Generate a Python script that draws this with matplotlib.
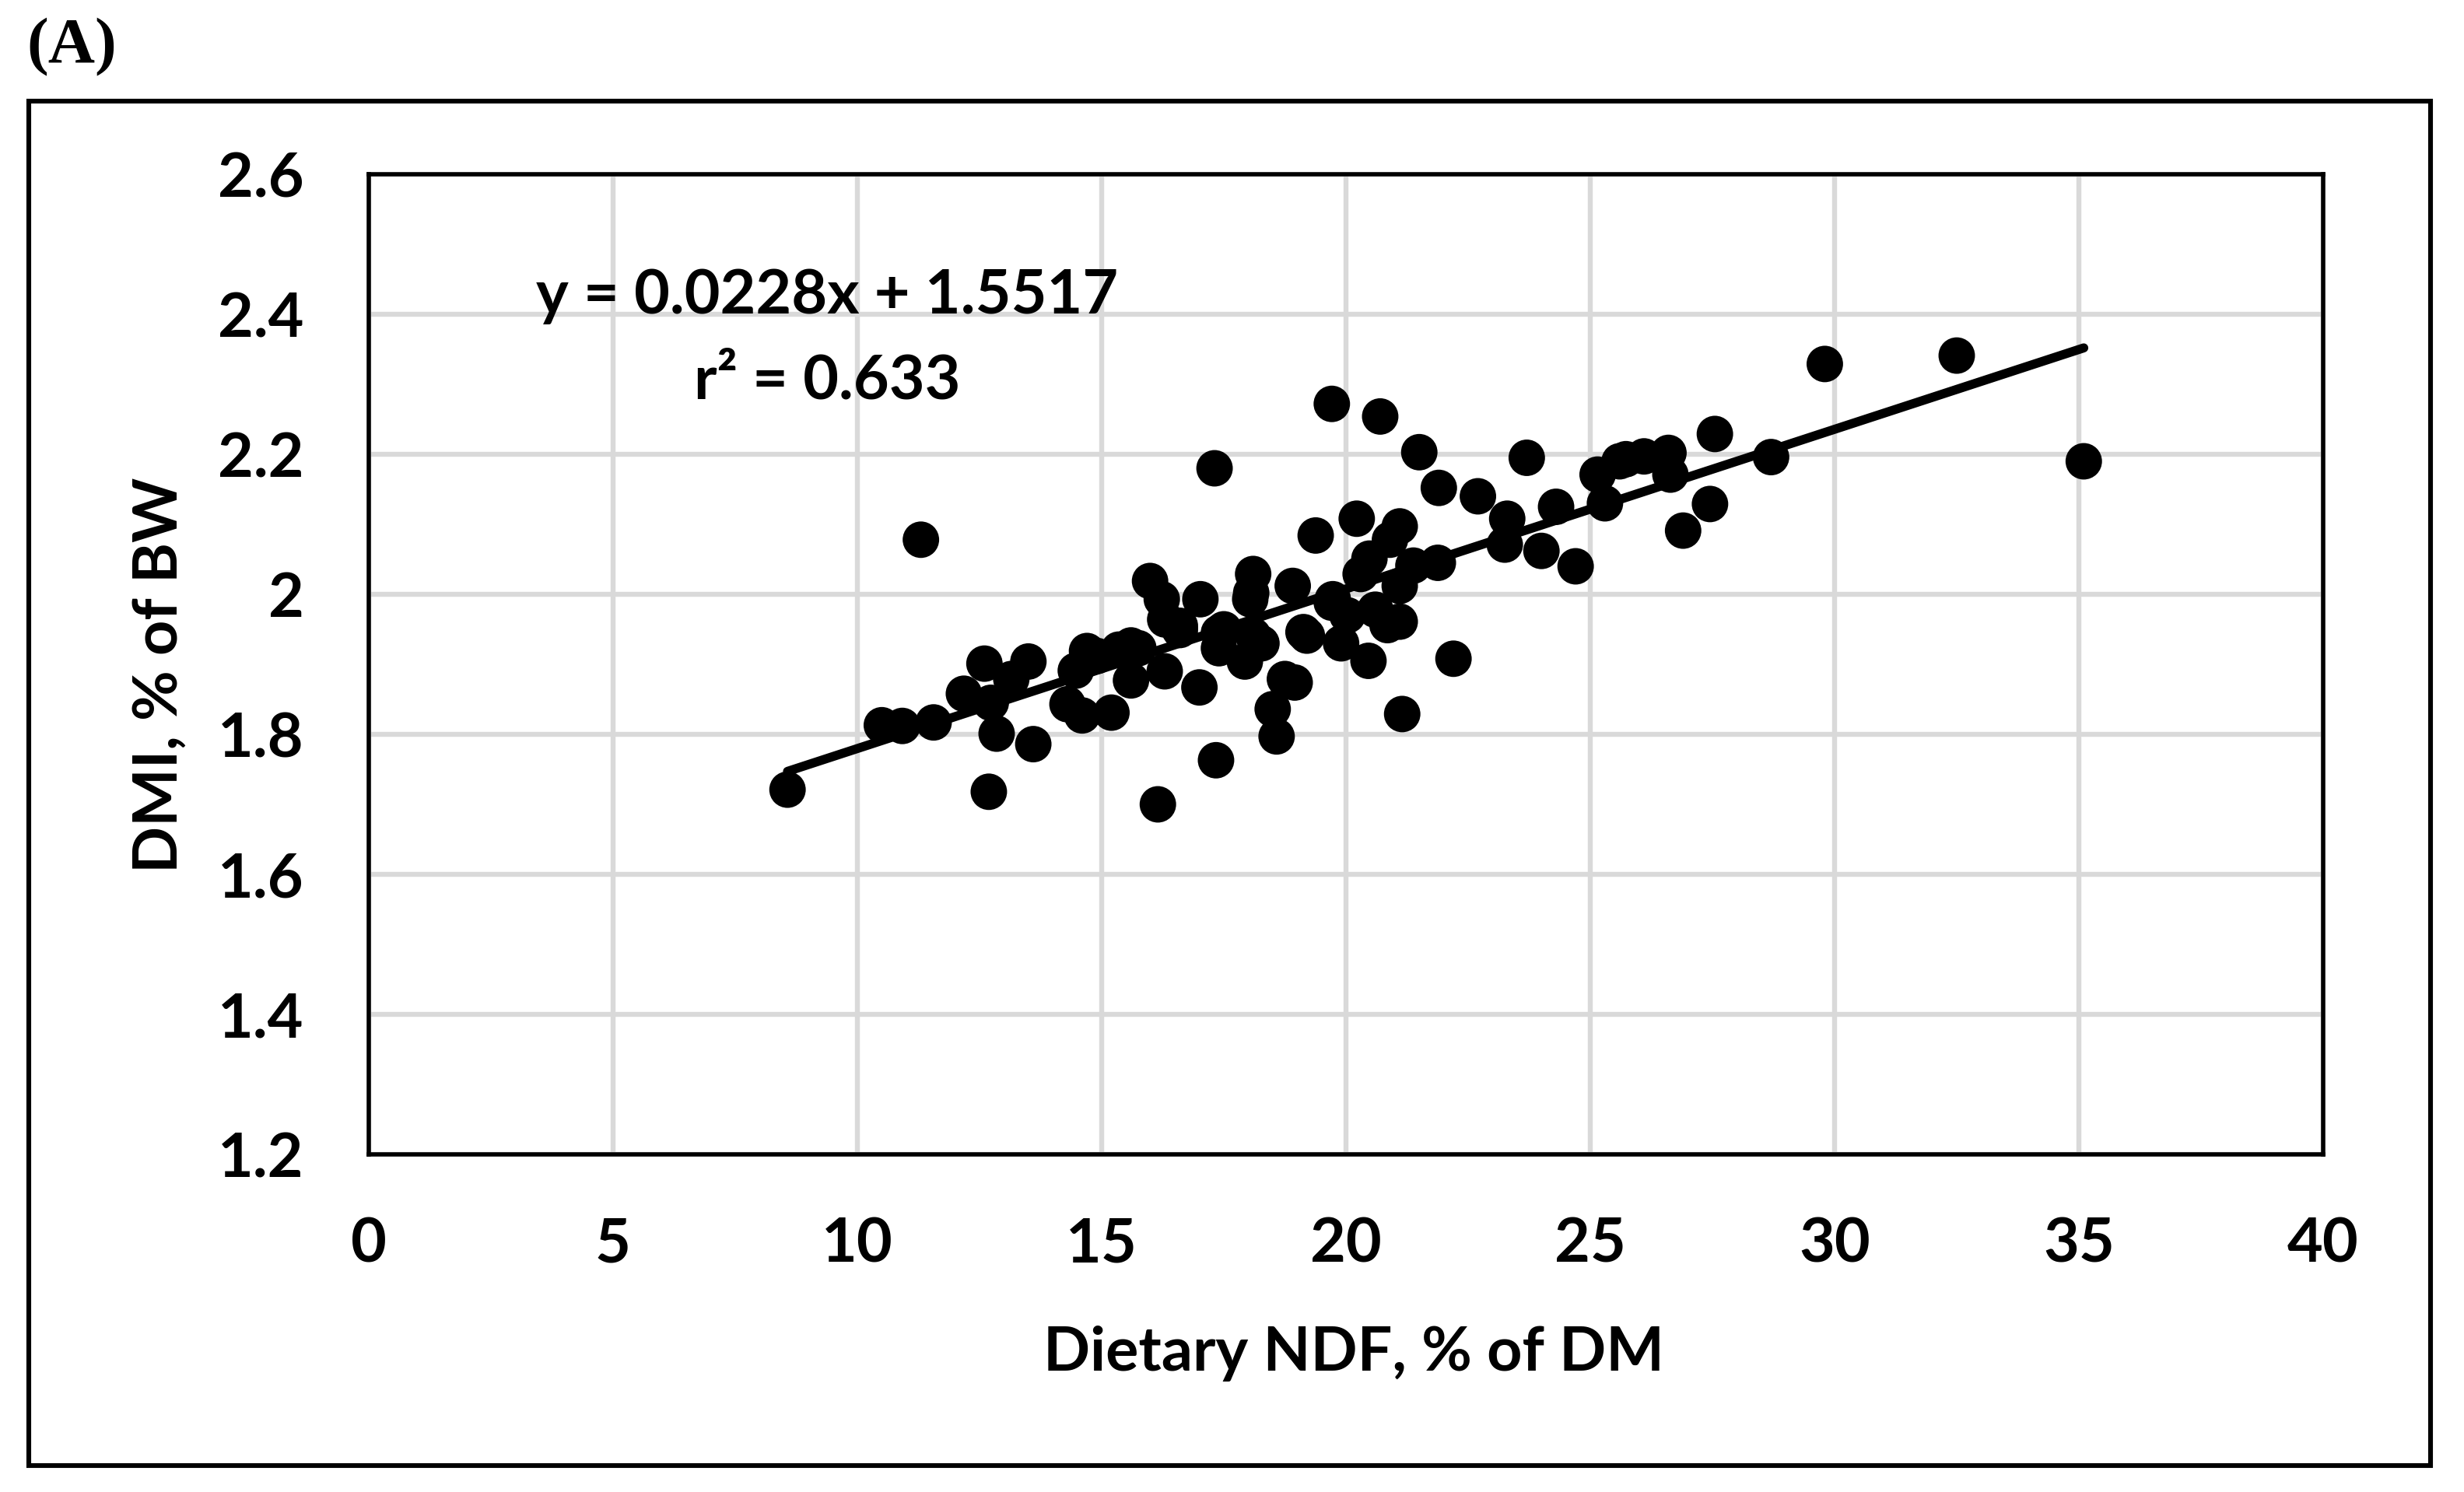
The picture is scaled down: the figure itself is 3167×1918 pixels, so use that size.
import matplotlib
matplotlib.use("Agg")
import matplotlib.pyplot as plt
from matplotlib.patches import Rectangle
import numpy as np

# ---- data ----
ndf = [8.57, 10.5, 10.92, 11.56, 11.3, 12.18, 12.6, 12.73, 12.85, 12.69,
       13.15, 13.5, 13.6, 14.3, 14.47, 14.6, 14.7, 14.9, 15.2, 15.35,
       15.6, 15.6, 15.75, 15.99, 16.15, 16.23, 16.29, 16.3, 16.6, 17.0,
       17.02, 17.31, 17.34, 17.4, 17.4, 17.93, 18.04, 18.06, 18.1, 18.1,
       18.27, 18.5, 18.58, 18.75, 18.91, 18.95, 19.13, 19.2, 19.38, 19.71,
       19.73, 19.9, 20.03, 20.22, 20.3, 20.46, 20.48, 20.6, 20.7, 20.85,
       20.9, 21.1, 21.15, 21.1, 21.1, 21.38, 21.5, 21.88, 21.9, 22.2,
       22.7, 23.25, 23.3, 23.7, 24.0, 24.3, 24.7, 25.15, 25.3, 25.6,
       25.73, 26.1, 26.6, 26.64, 26.9, 27.45, 27.55, 28.7, 29.8, 32.5,
       35.1, 16.6, 17.5, 19.71]
dmi = [1.721, 1.813, 1.812, 1.817, 2.078, 1.858, 1.901, 1.845, 1.801, 1.718,
       1.879, 1.904, 1.786, 1.843, 1.891, 1.827, 1.919, 1.912, 1.831, 1.921,
       1.877, 1.927, 1.923, 2.019, 1.700, 1.993, 1.890, 1.964, 1.949, 1.867,
       1.993, 2.180, 1.763, 1.923, 1.945, 1.904, 1.993, 2.002, 2.029, 1.941,
       1.930, 1.836, 1.797, 1.879, 2.012, 1.874, 1.946, 1.941, 2.084, 2.272,
       1.993, 1.930, 1.970, 2.108, 2.029, 1.905, 2.051, 1.978, 2.254, 1.956,
       2.078, 1.961, 1.829, 2.012, 2.097, 2.041, 2.203, 2.045, 2.152, 1.908,
       2.140, 2.071, 2.108, 2.195, 2.062, 2.125, 2.040, 2.171, 2.130, 2.190,
       2.193, 2.197, 2.202, 2.171, 2.091, 2.129, 2.229, 2.196, 2.329, 2.341,
       2.190, 1.955, 1.950, 1.988]

slope = 0.0228
intercept = 1.5517
r2 = 0.633

x_ticks = [0, 5, 10, 15, 20, 25, 30, 35, 40]
y_ticks = [1.2, 1.4, 1.6, 1.8, 2.0, 2.2, 2.4, 2.6]
y_tick_labels = ["1.2", "1.4", "1.6", "1.8", "2", "2.2", "2.4", "2.6"]

x_label = "Dietary NDF, % of DM"
y_label = "DMI, % of BW"
panel = "(A)"

# ---- figure ----
W, H = 3167, 1918
DPI = 200
fig = plt.figure(figsize=(W / DPI, H / DPI), dpi=DPI)
fig.patch.set_facecolor("white")

FONT = ["Lato", "DejaVu Sans"]

# outer frame
fig.patches.append(Rectangle((37 / W, 1 - 1884 / H), (3124 - 37) / W, (1884 - 130) / H,
                             transform=fig.transFigure, fill=False,
                             edgecolor="black", linewidth=2.2, zorder=0))

fig.text(34 / W, 1 - 80 / H, panel, fontsize=30, fontweight="bold",
         family=["Liberation Serif", "DejaVu Serif"], ha="left", va="baseline")

ax = fig.add_axes([474 / W, 1 - 1484 / H, 2512 / W, 1260 / H])
ax.set_xlim(0, 40)
ax.set_ylim(1.2, 2.6)
ax.set_xticks(x_ticks)
ax.set_yticks(y_ticks)
ax.set_yticklabels(y_tick_labels)
ax.grid(True, color="#D9D9D9", linewidth=2.3, zorder=0)
ax.set_axisbelow(True)
for sp in ax.spines.values():
    sp.set_color("black")
    sp.set_linewidth(2.0)
ax.tick_params(axis="both", length=0, labelsize=28.5)
ax.tick_params(axis="y", pad=30)
ax.tick_params(axis="x", pad=29)
for lab in ax.get_xticklabels() + ax.get_yticklabels():
    lab.set_family(FONT)
    lab.set_fontweight("bold")

ax.scatter(ndf, dmi, s=285, color="black", edgecolors="none", zorder=3)

xs = np.array([min(ndf), max(ndf)])
ax.plot(xs, slope * xs + intercept, color="black", linewidth=4.2,
        solid_capstyle="round", zorder=4)

ax.text(9.38, 2.4256, f"y = {slope}x + {intercept}", fontsize=28.5, fontweight="bold",
        family=FONT, ha="center", va="center", zorder=5)
ax.text(9.38, 2.304, f"r\u00b2 = {r2}", fontsize=28.5, fontweight="bold",
        family=FONT, ha="center", va="center", zorder=5)

fig.text(1740 / W, 1 - 1740 / H, x_label, fontsize=28.5, fontweight="bold",
         family=FONT, ha="center", va="center")
fig.text(206 / W, 1 - 868 / H, y_label, fontsize=28.5, fontweight="bold",
         family=FONT, ha="center", va="center", rotation=90)

fig.savefig("out.png", dpi=DPI, facecolor="white")
